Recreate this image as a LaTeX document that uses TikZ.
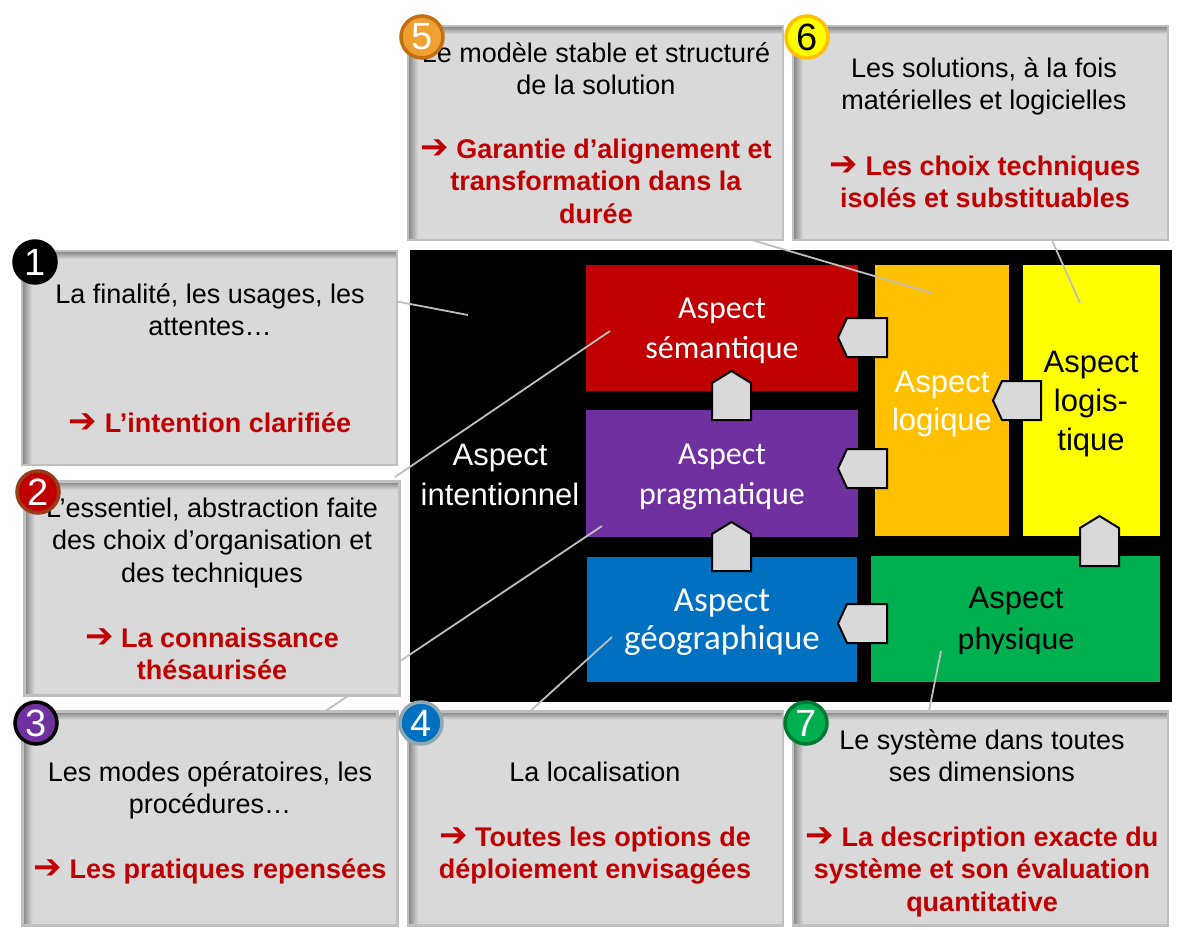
\documentclass[tikz,border=0pt]{standalone}
\usepackage{fontspec}
\setmainfont{Liberation Sans}
\newfontfamily\calfont{Carlito}
\newfontfamily\arrfont{DejaVu Sans}
\usetikzlibrary{calc}
\definecolor{boxgray}{HTML}{D9D9D9}
\definecolor{boxborder}{HTML}{BFBFBF}
\definecolor{shadowgray}{HTML}{8C8C8C}
\definecolor{linegray}{HTML}{BFBFBF}
\definecolor{myred}{HTML}{C00000}
\definecolor{cred}{HTML}{C00000}
\definecolor{cpurple}{HTML}{7030A0}
\definecolor{cblue}{HTML}{0070C0}
\definecolor{corange}{HTML}{FFC000}
\definecolor{cyellow}{HTML}{FFFF00}
\definecolor{cgreen}{HTML}{00B050}
\definecolor{nfive}{HTML}{EFA030}
\definecolor{nfiveb}{HTML}{C07010}
\definecolor{ntwob}{HTML}{983C18}
\definecolor{nfourb}{HTML}{8FA9B3}
\definecolor{nsevenb}{HTML}{007A33}
\newcommand\mylines[1]{\begin{tabular}[t]{@{}c@{}}#1\end{tabular}}
\newcommand\rarr{{\arrfont\bfseries\fontsize{34}{32.5}\selectfont ➔}}
\newcommand\callout[3]{%
  \node[cbox] (#1) at (#2,#3) {};
  \shade[left color=shadowgray, right color=boxgray]
    ([xshift=1.2pt,yshift=-1.2pt]#1.north west) rectangle ([xshift=10pt,yshift=1.2pt]#1.south west);
  \shade[top color=shadowgray, bottom color=boxgray]
    ([xshift=1.2pt,yshift=-1.2pt]#1.north west) rectangle ([xshift=-1.2pt,yshift=-8pt]#1.north east);
  \draw[draw=boxborder, line width=2.5pt] (#1.north west) rectangle (#1.south east);
}
\tikzset{
  cbox/.style={fill=boxgray, inner sep=0, outer sep=0, minimum width=375pt, minimum height=214pt},
  abox/.style={inner sep=0, outer sep=0, draw=none},
  blk/.style={inner sep=0, anchor=base, font=\fontsize{27}{32.5}\selectfont},
  redtxt/.style={inner sep=0, anchor=base, text=myred, font=\bfseries\fontsize{27}{32.5}\selectfont},
  conn/.style={draw=linegray, line width=1.8pt},
  pent/.style={draw=black, line width=2pt, fill=boxgray, line join=miter},
  num/.style={circle, line width=3.5pt, minimum size=42pt, inner sep=0, text=white, font=\fontsize{38}{38}\selectfont},
}
\begin{document}
\begin{tikzpicture}[x=1pt,y=-1pt]
\useasboundingbox (0,0) rectangle (1183,929);
\fill[white] (0,0) rectangle (1183,929);

% main black panel and aspects
\node[abox, fill=black, minimum width=762pt, minimum height=452pt] (panel) at (791,476) {};
\node[abox, fill=cred, minimum width=272pt, minimum height=126pt] (sem) at (722,328) {};
\node[abox, fill=cpurple, minimum width=272pt, minimum height=127pt] (prag) at (722,473.5) {};
\node[abox, fill=cblue, minimum width=270pt, minimum height=125pt] (geo) at (722,619.5) {};
\node[abox, fill=corange, minimum width=134pt, minimum height=271pt] (log) at (942,400.5) {};
\node[abox, fill=cyellow, minimum width=137pt, minimum height=271pt] (logis) at (1091.5,400.5) {};
\node[abox, fill=cgreen, minimum width=289pt, minimum height=126pt] (phys) at (1015.5,619) {};

% aspect labels
\node[inner sep=0, anchor=base, text=white, font=\fontsize{31}{40}\selectfont] (tint) at (500,465) {\mylines{Aspect\\intentionnel}};
\node[inner sep=0, anchor=base, text=white, font=\calfont\fontsize{32}{40}\selectfont] (tsem) at (722,318) {\mylines{Aspect\\sémantique}};
\node[inner sep=0, anchor=base, text=white, font=\calfont\fontsize{32}{40}\selectfont] (tprag) at (722,464) {\mylines{Aspect\\pragmatique}};
\node[inner sep=0, anchor=base, text=white, font=\calfont\fontsize{35}{38}\selectfont] (tgeo) at (722,611) {\mylines{Aspect\\géographique}};
\node[inner sep=0, anchor=base, text=white, font=\fontsize{31}{38}\selectfont] (tlog) at (942,392) {\mylines{Aspect\\logique}};
\node[inner sep=0, anchor=base, text=black, font=\fontsize{31}{39}\selectfont] (tlogis) at (1091,372) {\mylines{Aspect\\logis-\\tique}};
\node[inner sep=0, anchor=base, text=black, font=\fontsize{31}{41}\selectfont] (tphys) at (1016,608) {\mylines{Aspect\\{\calfont\fontsize{32}{41}\selectfont physique}}};

% pentagon arrows
\draw[pent] (887,318) -- (847,318) -- (838,337.5) -- (847,357) -- (887,357) -- cycle;
\draw[pent] (887,449) -- (847,449) -- (838,468.5) -- (847,488) -- (887,488) -- cycle;
\draw[pent] (887,604) -- (847,604) -- (838,623.5) -- (847,643) -- (887,643) -- cycle;
\draw[pent] (1041,381) -- (1002,381) -- (993,400.5) -- (1002,420) -- (1041,420) -- cycle;
\draw[pent] (712,420) -- (712,383) -- (731.5,371) -- (751,383) -- (751,420) -- cycle;
\draw[pent] (712,571) -- (712,534) -- (731.5,522) -- (751,534) -- (751,571) -- cycle;
\draw[pent] (1080,566) -- (1080,528) -- (1099.5,516) -- (1119,528) -- (1119,566) -- cycle;

% connector end points
\coordinate (a1) at (397,301.5); \coordinate (b1) at (468,315);
\coordinate (a2) at (395,477);   \coordinate (b2) at (610,331);
\coordinate (a3) at (318,716);   \coordinate (b3) at (602,526);
\coordinate (a4) at (526,715);   \coordinate (b4) at (612,637);
\coordinate (a5) at (745,238);   \coordinate (b5) at (932,293);
\coordinate (a6) at (1051,238);  \coordinate (b6) at (1080,303);
\coordinate (a7) at (928,716);   \coordinate (b7) at (941,651);
\draw[conn] (a1) -- (b1);
\draw[conn] (a2) -- (b2);
\draw[conn] (a3) -- (b3);
\draw[conn] (a4) -- (b4);
\draw[conn] (a5) -- (b5);
\draw[conn] (a6) -- (b6);
\draw[conn] (a7) -- (b7);

% callout boxes
\callout{c1}{209.5}{358}
\callout{c2}{212}{588.5}
\callout{c3}{210}{818.5}
\callout{c4}{595.5}{818.5}
\callout{c5}{595.5}{133}
\callout{c6}{980.5}{133}
\callout{c7}{980.5}{818.5}

% callout texts
\node[blk] (t1) at (210,303) {\mylines{La finalité, les usages, les\\attentes…}};
\node[redtxt] (r1) at (210,432) {\mylines{\rarr\ L’intention clarifiée}};
\node[blk] (t2) at (212,517) {\mylines{L’essentiel, abstraction faite\\des choix d’organisation et\\des techniques}};
\node[redtxt] (r2) at (212,647) {\mylines{\rarr\ La connaissance\\thésaurisée}};
\node[blk] (t3) at (210,781) {\mylines{Les modes opératoires, les\\procédures…}};
\node[redtxt] (r3) at (210,878) {\mylines{\rarr\ Les pratiques repensées}};
\node[blk] (t4) at (595,781) {\mylines{La localisation}};
\node[redtxt] (r4) at (595,846) {\mylines{\rarr\ Toutes les options de\\déploiement envisagées}};
\node[blk] (t5) at (596,62) {\mylines{Le modèle stable et structuré\\de la solution}};
\node[redtxt] (r5) at (596,158) {\mylines{\rarr\ Garantie d’alignement et\\transformation dans la\\durée}};
\node[blk] (t6) at (984,77) {\mylines{Les solutions, à la fois\\matérielles et logicielles}};
\node[redtxt] (r6) at (985,175) {\mylines{\rarr\ Les choix techniques\\isolés et substituables}};
\node[blk] (t7) at (982,749) {\mylines{Le système dans toutes\\ses dimensions}};
\node[redtxt] (r7) at (982,846) {\mylines{\rarr\ La description exacte du\\système et son évaluation\\quantitative}};

% numbered circles
\node[num, fill=black, draw=black] (n1) at (35,262) {1};
\node[num, fill=cred, draw=ntwob] (n2) at (38,492) {2};
\node[num, fill=cpurple, draw=black] (n3) at (36,723) {3};
\node[num, fill=cblue, draw=nfourb] (n4) at (421,723) {4};
\node[num, fill=nfive, draw=nfiveb] (n5) at (422,37) {5};
\node[num, fill=cyellow, draw=corange, text=black] (n6) at (807,37) {6};
\node[num, fill=cgreen, draw=nsevenb] (n7) at (806,723) {7};
\end{tikzpicture}
\end{document}
